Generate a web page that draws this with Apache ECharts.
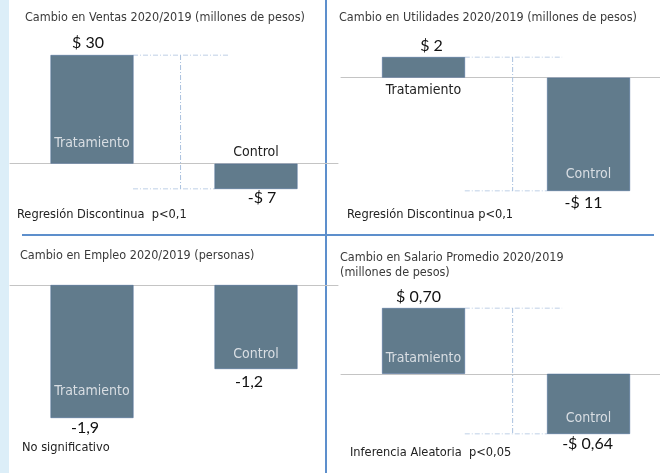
<!DOCTYPE html>
<html>
<head>
<meta charset="utf-8">
<script src="https://cdn.jsdelivr.net/npm/echarts@6/dist/echarts.min.js"></script>
<style>
  html, body { margin: 0; padding: 0; background: #ffffff; }
  #chart { width: 660px; height: 473px; }
</style>
</head>
<body>
<div id="chart"></div>
<script>
// data
const categories = ['Tratamiento', 'Control'];
const ventas = [30, -7];
const utilidades = [2, -11];
const empleo = [-1.9, -1.2];
const salario = [0.70, -0.64];

const titles = [
    'Cambio en Ventas 2020/2019 (millones de pesos)',
    'Cambio en Utilidades 2020/2019 (millones de pesos)',
    'Cambio en Empleo 2020/2019 (personas)',
    'Cambio en Salario Promedio 2020/2019\n(millones de pesos)'
];
const notes = ['Regresión Discontinua  p<0,1', 'Regresión Discontinua p<0,1', 'No significativo', 'Inferencia Aleatoria  p<0,05'];

// guide lines between the bars, in category units (0 = Tratamiento, 1 = Control)
const guideTop = [0.25, 0.84];
const guideMid = 0.54;
const guideBottom = [0.25, 0.75];

const narrow = '"DejaVu Sans Condensed", "Liberation Sans Narrow", Roboto, sans-serif';
const plain = 'Lato, "Open Sans", sans-serif';
const barColor = '#617b8c';

const money0 = v => (v < 0 ? '-$ ' : '$ ') + Math.abs(v).toFixed(0);
const money2 = v => (v < 0 ? '-$ ' : '$ ') + Math.abs(v).toFixed(2).replace('.', ',');
const plainNum = v => String(v).replace('.', ',');

// x range in category units: one category = 164/165 px
const panels = [
    {
        values: ventas, fmt: money0, guides: true, xMax: 1.5,
        grid: { left: 10, width: 328, top: 55, height: 134 },
        catLabels: [{ position: 'insideBottom', distance: 13, inside: true }, { position: 'top', distance: 4 }],
        valOffsets: [[-4, 0], [6, 0]], valDist: [4, 1]
    },
    {
        values: utilidades, fmt: money0, guides: true, xMax: 1.433,
        grid: { left: 341, width: 319, top: 57, height: 134 },
        catLabels: [{ position: 'bottom', distance: 6 }, { position: 'insideBottom', distance: 10, inside: true }],
        valOffsets: [[8, 0], [-5, 0]], valDist: [3, 4]
    },
    {
        values: empleo, fmt: plainNum, guides: false, xMax: 1.5,
        grid: { left: 10, width: 328, top: 285, height: 133 },
        catLabels: [{ position: 'insideBottom', distance: 20, inside: true }, { position: 'insideBottom', distance: 8, inside: true }],
        valOffsets: [[-7, 0], [-7, 0]], valDist: [2, 5]
    },
    {
        values: salario, fmt: money2, guides: true, xMax: 1.433,
        grid: { left: 341, width: 319, top: 308, height: 126 },
        catLabels: [{ position: 'insideBottom', distance: 8, inside: true }, { position: 'insideBottom', distance: 9, inside: true }],
        valOffsets: [[-5, 0], [-1, 0]], valDist: [3, 2]
    }
];

const titlePos = [[25, 10], [339, 10], [20, 248], [340, 250]];
const notePos = [[17, 208], [347, 208], [22, 441], [350, 446]];

const grid = [], xAxis = [], yAxis = [], series = [], title = [];

panels.forEach((p, i) => {
    grid.push(Object.assign({ containLabel: false }, p.grid));

    xAxis.push({
        type: 'value', gridIndex: i, min: -0.5, max: p.xMax,
        axisLine: { show: true, onZero: true, lineStyle: { color: '#c4c4c4', width: 1 } },
        axisTick: { show: false }, axisLabel: { show: false }, splitLine: { show: false }
    });

    yAxis.push({
        type: 'value', gridIndex: i, show: false,
        min: Math.min(0, ...p.values), max: Math.max(0, ...p.values),
        splitLine: { show: false }
    });

    series.push({
        type: 'bar', xAxisIndex: i, yAxisIndex: i, barWidth: 83,
        itemStyle: { color: barColor, borderColor: '#50709a', borderWidth: 0.6 },
        data: p.values.map((v, k) => ({
            value: [k, v],
            label: {
                show: true, position: 'outside', distance: p.valDist[k], offset: p.valOffsets[k],
                formatter: () => p.fmt(v),
                fontFamily: plain, fontSize: 16, color: '#111111'
            }
        })),
        silent: true, animation: false
    });
    // transparent twin carrying the category names
    series.push({
        type: 'bar', xAxisIndex: i, yAxisIndex: i, barWidth: 83, barGap: '-100%',
        itemStyle: { color: 'rgba(0,0,0,0)' },
        data: p.values.map((v, k) => ({
            value: [k, v],
            label: {
                show: true, position: p.catLabels[k].position, distance: p.catLabels[k].distance,
                formatter: categories[k],
                fontFamily: narrow, fontSize: 14,
                color: p.catLabels[k].inside ? '#d9dee3' : '#222222'
            }
        })),
        silent: true, animation: false, z: 3
    });

    if (p.guides) {
        const t = p.values[0], c = p.values[1];
        const segs = [
            [[guideTop[0], t], [guideTop[1], t]],
            [[guideMid, t], [guideMid, c]],
            [[guideBottom[0], c], [guideBottom[1], c]]
        ];
        segs.forEach(s => series.push({
            type: 'line', xAxisIndex: i, yAxisIndex: i, data: s,
            symbol: 'none', silent: true, animation: false, z: 1,
            lineStyle: { color: '#a9c0de', width: 1, type: [5, 2, 1, 2] }
        }));
    }

    title.push({
        text: titles[i], left: titlePos[i][0], top: titlePos[i][1], padding: 0,
        textStyle: { fontFamily: narrow, fontSize: 12.5, fontWeight: 'normal', color: '#3a3a3a', lineHeight: 15 }
    });
    title.push({
        text: notes[i], left: notePos[i][0], top: notePos[i][1], padding: 0,
        textStyle: { fontFamily: narrow, fontSize: 12.7, fontWeight: 'normal', color: '#222222' }
    });
});

const chart = echarts.init(document.getElementById('chart'), null, { renderer: 'canvas' });
chart.setOption({
    backgroundColor: '#ffffff',
    animation: false,
    title: title,
    grid: grid,
    xAxis: xAxis,
    yAxis: yAxis,
    series: series,
    graphic: [
        { type: 'rect', shape: { x: 0, y: 0, width: 9, height: 473 }, style: { fill: '#dceef8' }, z: -1 },
        { type: 'line', shape: { x1: 326, y1: 0, x2: 326, y2: 473 }, style: { stroke: '#5d8fcc', lineWidth: 2 } },
        { type: 'line', shape: { x1: 22, y1: 235, x2: 654, y2: 235 }, style: { stroke: '#5d8fcc', lineWidth: 2 } }
    ]
});
</script>
</body>
</html>
